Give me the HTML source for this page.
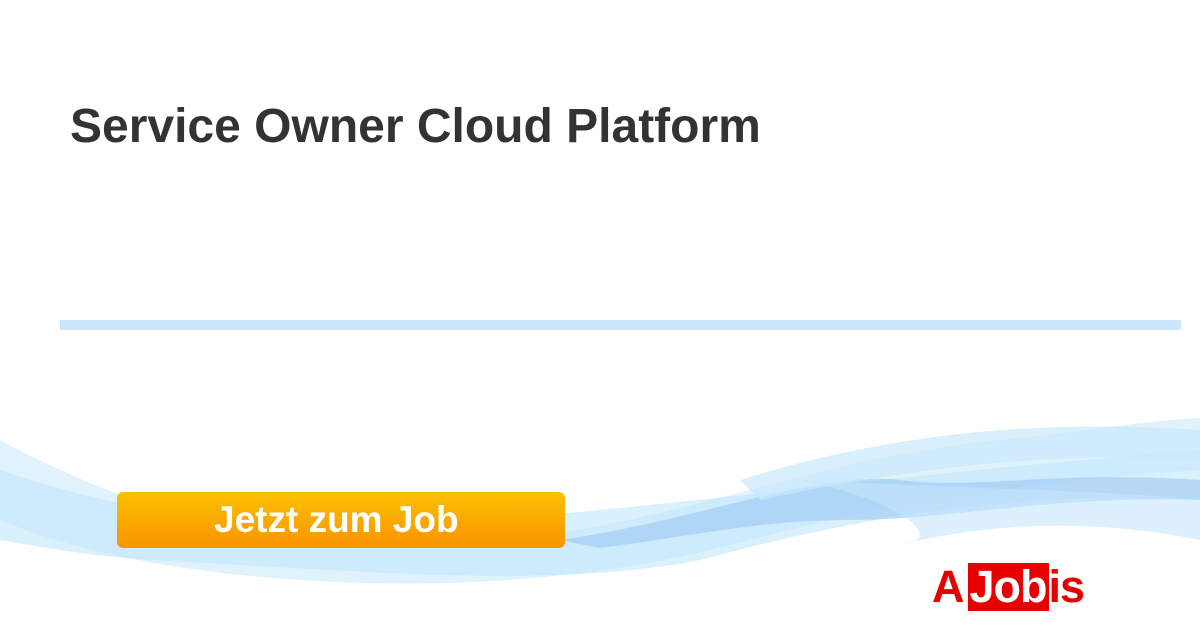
<!DOCTYPE html>
<html><head><meta charset="utf-8"><style>
html,body{margin:0;padding:0}
body{width:1200px;height:630px;position:relative;background:#fff;overflow:hidden;font-family:"Liberation Sans",sans-serif}
.t{position:absolute;left:70px;top:99px;font-size:48px;font-weight:bold;color:#333;white-space:nowrap}
.ln{position:absolute;left:60px;top:320px;width:1121px;height:10px;background:#cce6fb}
.btn{position:absolute;left:117px;top:492px;width:448px;height:56px;border-radius:6px;background:linear-gradient(#fbc000,#f99300);color:#fff;font-weight:bold;font-size:37px;line-height:56px;box-sizing:border-box;padding-left:97px}
.logo{position:absolute;left:932px;top:563px;font-size:45px;font-weight:bold;line-height:48px;white-space:nowrap;color:#e60000;letter-spacing:-1px}
.logo span{display:inline-block;background:#e60000;color:#fff;padding:0 2px;margin-left:4px;line-height:48px}
</style></head><body>
<svg width="1200" height="630" style="position:absolute;left:0;top:0">
<g fill="none" stroke-width="1">
<path d="M0 440 C150 520 300 560 500 540 C700 520 800 460 1000 440 C1100 430 1150 420 1200 418 L1200 470 C1050 480 900 500 750 540 C600 580 450 590 300 580 C150 570 60 545 0 520 Z" fill="#d8f0fd" opacity="0.8"/>
<path d="M0 470 C200 540 400 530 600 510 C800 490 950 470 1200 450 L1200 500 C1000 490 850 520 700 560 C550 590 350 570 150 560 C80 555 30 545 0 540 Z" fill="#bfe6fb" opacity="0.6"/>
<path d="M560 540 C700 520 820 470 900 480 C980 490 1050 470 1200 480 L1200 500 C1050 495 950 520 850 520 C760 520 700 535 600 548 Z" fill="#9cc8f4" opacity="0.6"/>
<path d="M740 480 C900 430 1050 420 1200 430 L1200 460 C1050 450 900 470 760 500 Z" fill="#c9e8fb" opacity="0.7"/>
<path d="M800 480 C900 500 950 540 900 545 C1000 520 1100 520 1200 540 L1200 500 C1100 490 1000 490 800 480Z" fill="#c5e6fb" opacity="0.6"/>
</g>
</svg>
<div class="t">Service Owner Cloud Platform</div>
<div class="ln"></div>
<div class="btn">Jetzt zum Job</div>
<div class="logo">A<span>Job</span>is</div>
</body></html>
